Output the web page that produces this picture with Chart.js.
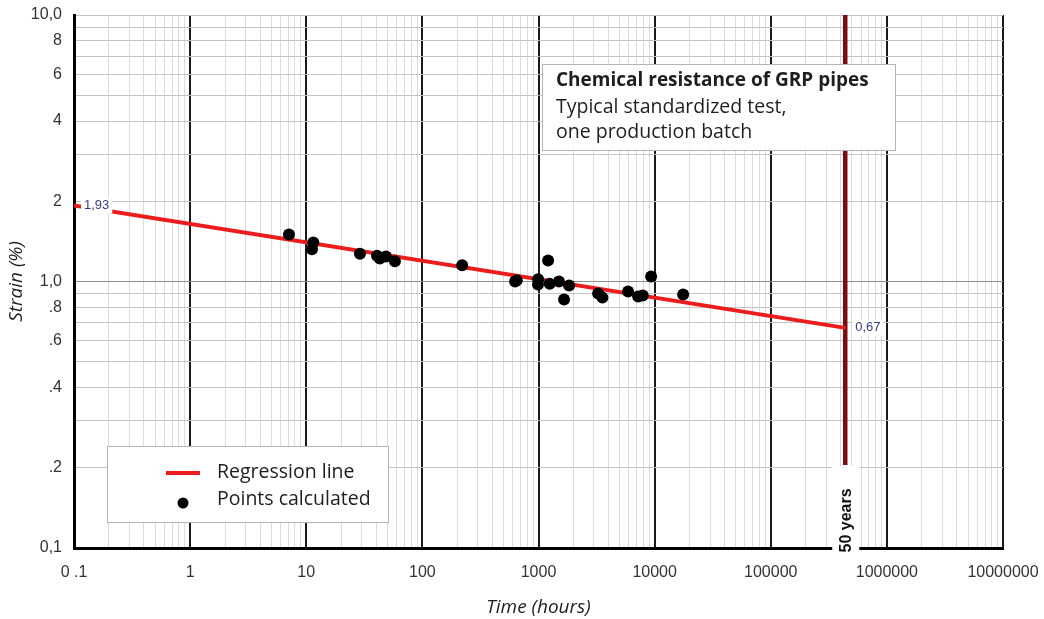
<!DOCTYPE html>
<html>
<head>
<meta charset="utf-8">
<script src="https://cdn.jsdelivr.net/npm/chart.js@4.4.0/dist/chart.umd.min.js"></script>
<style>
  body { margin: 0; background: #fff; }
</style>
</head>
<body>
<canvas id="canvas" width="1044" height="619"></canvas>
<script>
// test points: time (hours) and strain (%)
const pointHours = [7.1, 11.5, 11.2, 29, 40.7, 43, 48.6, 58, 220, 629, 650, 993, 990, 1210, 1250, 1500, 1660, 1835, 3260, 3550, 5910, 7210, 7900, 9330, 17600];
const pointStrain = [1.50, 1.40, 1.32, 1.27, 1.25, 1.22, 1.24, 1.19, 1.15, 1.00, 1.01, 1.02, 0.975, 1.20, 0.98, 1.00, 0.856, 0.966, 0.902, 0.87, 0.917, 0.879, 0.886, 1.044, 0.894];

// regression line ends
const regHours = [0.1, 438000];
const regStrain = [1.93, 0.67];
const regLabels = ["1,93", "0,67"];

// 50 years limit (50 * 8760 h)
const limitHours = [438000, 438000];
const limitStrain = [0.205, 10];
const limitLabel = "50 years";

const xTickValues = [0.1, 1, 10, 100, 1000, 10000, 100000, 1000000, 10000000];
const xTickLabels = ["0 .1", "1", "10", "100", "1000", "10000", "100000", "1000000", "10000000"];
const yTickValues = [0.1, 0.2, 0.4, 0.6, 0.8, 1, 2, 4, 6, 8, 10];
const yTickLabels = ["0,1", ".2", ".4", ".6", ".8", "1,0", "2", "4", "6", "8", "10,0"];

const boxTitle = "Chemical resistance of GRP pipes";
const boxLines = ["Typical standardized test,", "one production batch"];

// grid lines at 1..9 of every decade
function decadeGrid(min, max) {
  const out = [];
  for (let e = Math.round(Math.log10(min)); e < Math.round(Math.log10(max)); e++) {
    for (let m = 1; m < 10; m++) out.push(Number((m * Math.pow(10, e)).toPrecision(6)));
  }
  out.push(max);
  return out;
}
function isDecade(v) {
  const l = Math.log10(v);
  return Math.abs(l - Math.round(l)) < 1e-6;
}
function labelFor(v, values, labels) {
  const i = values.findIndex(t => Math.abs(t - v) / t < 1e-6);
  return i < 0 ? "" : labels[i];
}
function noEdgePadding(s) {
  s.paddingTop = 0; s.paddingBottom = 0; s.paddingLeft = 0; s.paddingRight = 0;
}

const xGrid = decadeGrid(xTickValues[0], xTickValues[xTickValues.length - 1]);
const yGrid = decadeGrid(yTickValues[0], yTickValues[yTickValues.length - 1]);

const tickFont = { family: "Liberation Sans, Arial, sans-serif", size: 16 };
const textFont = "Open Sans, sans-serif";

const overlay = {
  id: "overlay",
  afterDraw(chart) {
    const ctx = chart.ctx;
    const xs = chart.scales.x, ys = chart.scales.y;
    const area = chart.chartArea;
    ctx.save();

    // value labels at the ends of the regression line
    ctx.font = "13px Liberation Sans, Arial, sans-serif";
    ctx.textBaseline = "middle";
    ctx.textAlign = "left";
    for (let i = 0; i < regHours.length; i++) {
      const px = xs.getPixelForValue(regHours[i]) + 10;
      const py = ys.getPixelForValue(regStrain[i]);
      const w = ctx.measureText(regLabels[i]).width;
      ctx.fillStyle = "#fff";
      ctx.fillRect(px - 3, py - 8, w + 6, 16);
      ctx.fillStyle = "#3a3a8c";
      ctx.fillText(regLabels[i], px, py);
    }

    // 50 years label
    const lx = xs.getPixelForValue(limitHours[0]);
    const ly = ys.getPixelForValue(limitStrain[0]);
    ctx.fillStyle = "#fff";
    ctx.fillRect(lx - 13, ly + 1, 27, area.bottom - ly + 6);
    ctx.translate(lx + 1, (ly + area.bottom + 4) / 2 + 12);
    ctx.rotate(-Math.PI / 2);
    ctx.font = "bold 16px Liberation Sans, Arial, sans-serif";
    ctx.textAlign = "center";
    ctx.fillStyle = "#111";
    ctx.fillText(limitLabel, 0, 0);
    ctx.setTransform(1, 0, 0, 1, 0, 0);

    // info box
    const bx = area.left + 468, by = area.top + 49;
    ctx.fillStyle = "#fff";
    ctx.fillRect(bx, by, 353, 86);
    ctx.strokeStyle = "#b4b4b4";
    ctx.lineWidth = 1;
    ctx.strokeRect(bx + 0.5, by + 0.5, 353, 86);
    ctx.textAlign = "left";
    ctx.fillStyle = "#1e1e1e";
    ctx.font = "bold 19px " + textFont;
    ctx.fillText(boxTitle, bx + 14, by + 17);
    ctx.font = "19.5px " + textFont;
    boxLines.forEach((t, i) => ctx.fillText(t, bx + 14, by + 43 + i * 25));

    // legend
    const gx = area.left + 33, gy = area.bottom - 102;
    ctx.fillStyle = "#fff";
    ctx.fillRect(gx, gy, 281, 76);
    ctx.strokeRect(gx + 0.5, gy + 0.5, 281, 76);
    ctx.strokeStyle = chart.data.datasets[1].borderColor;
    ctx.lineWidth = 4;
    ctx.beginPath();
    ctx.moveTo(gx + 59, gy + 27);
    ctx.lineTo(gx + 93, gy + 27);
    ctx.stroke();
    ctx.fillStyle = "#000";
    ctx.beginPath();
    ctx.arc(gx + 76, gy + 57, 5.5, 0, Math.PI * 2);
    ctx.fill();
    ctx.fillStyle = "#1e1e1e";
    ctx.font = "19.5px " + textFont;
    ctx.fillText(chart.data.datasets[1].label, gx + 110, gy + 26);
    ctx.fillText(chart.data.datasets[0].label, gx + 110, gy + 53);
    ctx.restore();
  }
};

const ctx = document.getElementById("canvas").getContext("2d");
const myChart = new Chart(ctx, {
  type: "scatter",
  data: {
    datasets: [
      {
        label: "Points calculated",
        data: pointHours.map((h, i) => ({ x: h, y: pointStrain[i] })),
        backgroundColor: "#000",
        borderWidth: 0,
        pointRadius: 6,
        order: 0,
      },
      {
        label: "Regression line",
        data: regHours.map((h, i) => ({ x: h, y: regStrain[i] })),
        showLine: true,
        borderColor: "#ec1c1c",
        borderWidth: 4,
        pointRadius: 0,
        order: 1,
      },
      {
        label: limitLabel,
        data: limitHours.map((h, i) => ({ x: h, y: limitStrain[i] })),
        showLine: true,
        borderColor: "#7e0c0c",
        borderWidth: 4.5,
        pointRadius: 0,
        order: 2,
      },
    ],
  },
  options: {
    responsive: false,
    animation: false,
    layout: { padding: { top: 15, right: 41, bottom: 0, left: 0 } },
    plugins: { legend: { display: false }, tooltip: { enabled: false } },
    scales: {
      x: {
        type: "logarithmic",
        min: xTickValues[0],
        max: xTickValues[xTickValues.length - 1],
        afterBuildTicks: (s) => { s.ticks = xGrid.map((v) => ({ value: v })); },
        afterFit: (s) => { s.height = 71; noEdgePadding(s); },
        grid: {
          drawTicks: false,
          color: (c) => (c.tick && isDecade(c.tick.value) ? "#1a1a1a" : "#dcdcdc"),
          lineWidth: (c) => (c.tick && isDecade(c.tick.value) ? 2 : 1),
        },
        border: { color: "#000", width: 3 },
        ticks: {
          autoSkip: false,
          maxRotation: 0,
          padding: 15,
          color: "#333",
          font: tickFont,
          callback: (v) => labelFor(v, xTickValues, xTickLabels),
        },
        title: {
          display: true,
          text: "Time (hours)",
          color: "#1e1e1e",
          font: { family: textFont, size: 19, style: "italic" },
          padding: { top: 1, bottom: 0 },
        },
      },
      y: {
        type: "logarithmic",
        min: yTickValues[0],
        max: yTickValues[yTickValues.length - 1],
        afterBuildTicks: (s) => { s.ticks = yGrid.map((v) => ({ value: v })); },
        afterFit: (s) => { s.width = 74; noEdgePadding(s); },
        grid: {
          drawTicks: false,
          color: (c) => (c.tick && c.tick.value === 1 ? "#8c8c8c" : "#c4c4c4"),
          lineWidth: 1,
        },
        border: { color: "#000", width: 3 },
        ticks: {
          autoSkip: false,
          padding: 12,
          color: "#333",
          font: tickFont,
          callback: (v) => labelFor(v, yTickValues, yTickLabels),
        },
        title: {
          display: true,
          text: "Strain (%)",
          color: "#1e1e1e",
          font: { family: textFont, size: 19, style: "italic" },
          padding: { top: 5, bottom: 0 },
        },
      },
    },
  },
  plugins: [overlay],
});
</script>
</body>
</html>
